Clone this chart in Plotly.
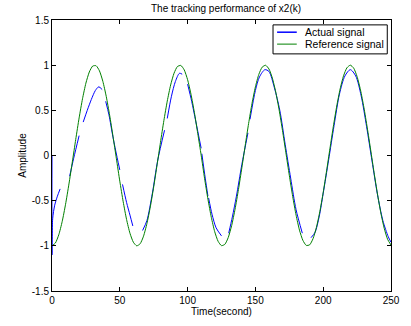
import plotly.graph_objects as go

# Reference signal (sampled every 2.5 s)
ref_t = [i * 2.5 for i in range(101)]
ref_y = [-1.0, -0.969, -0.878, -0.732, -0.54, -0.315, -0.071, 0.178, 0.416, 0.628,
         0.801, 0.924, 0.99, 0.994, 0.937, 0.821, 0.654, 0.447, 0.211, -0.037,
         -0.284, -0.512, -0.709, -0.861, -0.96, -1.0, -0.977, -0.893, -0.754, -0.569,
         -0.347, -0.103, 0.146, 0.386, 0.602, 0.781, 0.911, 0.985, 0.997, 0.948,
         0.839, 0.678, 0.476, 0.243, 0.004, -0.252, -0.484, -0.685, -0.844, -0.95,
         -0.998, -0.983, -0.907, -0.775, -0.594, -0.377, -0.137, 0.112, 0.355, 0.576,
         0.76, 0.897, 0.978, 0.999, 0.958, 0.857, 0.703, 0.505, 0.275, 0.029,
         -0.219, -0.453, -0.66, -0.826, -0.939, -0.995, -0.989, -0.921, -0.796, -0.622,
         -0.409, -0.17, 0.08, 0.324, 0.548, 0.738, 0.882, 0.971, 1.0, 0.967,
         0.873, 0.726, 0.533, 0.306, 0.062, -0.187, -0.424, -0.635, -0.806, -0.928,
         -0.991]

# Actual signal (broken segments, None = gap)
act_t = [0, 0, 0.5, 2, 4, 6, None,
         13, 16, 20, None,
         23, 26, 29, 32, 34.5, 37, None,
         39.6, 42, 45, 48, 50, None,
         52, 55, 57.5, 59.6, None,
         66.8, 70, 74, 78, 83, None,
         85, 88, 91, 94, 96, None,
         100, 103, 106, 110, None,
         110.5, 113, 115, None,
         115.5, 118, 121, 125, None,
         130.3, 133, 136, 140, 144.5, None,
         146, 150, 153, 157, 160, 164, 168, 172, 176, 180, 184.6, None,
         191, 194, 197, 200, 204, 208, 212, 216, 220, 224, 228, 232, 236, 240, 244, 248, 250]
act_y = [0.0, -1.1, -0.7, -0.55, -0.45, -0.37, None,
         -0.23, -0.03, 0.22, None,
         0.37, 0.5, 0.62, 0.72, 0.76, 0.73, None,
         0.6, 0.45, 0.2, -0.02, -0.16, None,
         -0.32, -0.52, -0.66, -0.78, None,
         -0.83, -0.72, -0.42, -0.05, 0.28, None,
         0.41, 0.65, 0.82, 0.91, 0.9, None,
         0.79, 0.6, 0.38, 0.08, None,
         0.02, -0.25, -0.45, None,
         -0.47, -0.65, -0.8, -0.89, None,
         -0.86, -0.68, -0.45, -0.1, 0.25, None,
         0.4, 0.72, 0.87, 0.95, 0.93, 0.75, 0.5, 0.12, -0.25, -0.6, -0.86, None,
         -0.91, -0.85, -0.68, -0.42, -0.05, 0.33, 0.68, 0.88, 0.95, 0.88, 0.66, 0.32, -0.06, -0.43, -0.72, -0.9, -0.96]

series_names = ["Actual signal", "Reference signal"]
series_colors = ["#0000ff", "#008000"]

x_ticks = [0, 50, 100, 150, 200, 250]
y_ticks = [-1.5, -1, -0.5, 0, 0.5, 1, 1.5]
y_labels = ["-1.5", "-1", "-0.5", "0", "0.5", "1", "1.5"]

fig = go.Figure()
fig.add_trace(go.Scatter(x=act_t, y=act_y, mode="lines", name=series_names[0],
                         line=dict(color=series_colors[0], width=1, shape="spline", smoothing=0.8),
                         connectgaps=False))
fig.add_trace(go.Scatter(x=ref_t, y=ref_y, mode="lines", name=series_names[1],
                         line=dict(color=series_colors[1], width=1, shape="spline", smoothing=0.6)))

family = "Liberation Sans, Arial, sans-serif"
font = dict(family=family, size=10, color="#000000")
axis_common = dict(showgrid=False, zeroline=False, ticks="inside", ticklen=4,
                   tickcolor="#000000", showline=True, linecolor="#000000",
                   linewidth=1, mirror="ticks", tickfont=font)

# Manual MATLAB-style legend (paper coordinates)
shapes = [dict(type="rect", xref="paper", yref="paper", x0=0.652, x1=0.989,
               y0=0.875, y1=0.982, line=dict(color="#000000", width=1),
               fillcolor="white", layer="above")]
annotations = []
leg_y = [0.955, 0.911]
for name, color, yy in zip(series_names, series_colors, leg_y):
    shapes.append(dict(type="line", xref="paper", yref="paper", x0=0.664, x1=0.722,
                       y0=yy, y1=yy, line=dict(color=color, width=1.5 if color == "#0000ff" else 1),
                       layer="above"))
    annotations.append(dict(xref="paper", yref="paper", x=0.741, y=yy, text=name,
                            showarrow=False, xanchor="left", yanchor="middle",
                            font=dict(family=family, size=10.5, color="#000000")))

fig.update_layout(
    width=411, height=326,
    margin=dict(l=52, r=11, t=20, b=33),
    paper_bgcolor="white", plot_bgcolor="white",
    font=font,
    title=dict(text="The tracking performance of x2(k)", x=0.55, xanchor="center",
               y=0.975, yanchor="middle", font=dict(size=10, family=family)),
    showlegend=False,
    shapes=shapes,
    annotations=annotations,
    xaxis=dict(range=[0, 250], tickvals=x_ticks,
               title=dict(text="Time(second)", font=font, standoff=2), **axis_common),
    yaxis=dict(range=[-1.5, 1.5], tickvals=y_ticks, ticktext=y_labels,
               title=dict(text="Amplitude", font=font, standoff=3), **axis_common),
)

fig.write_html("out.html")
